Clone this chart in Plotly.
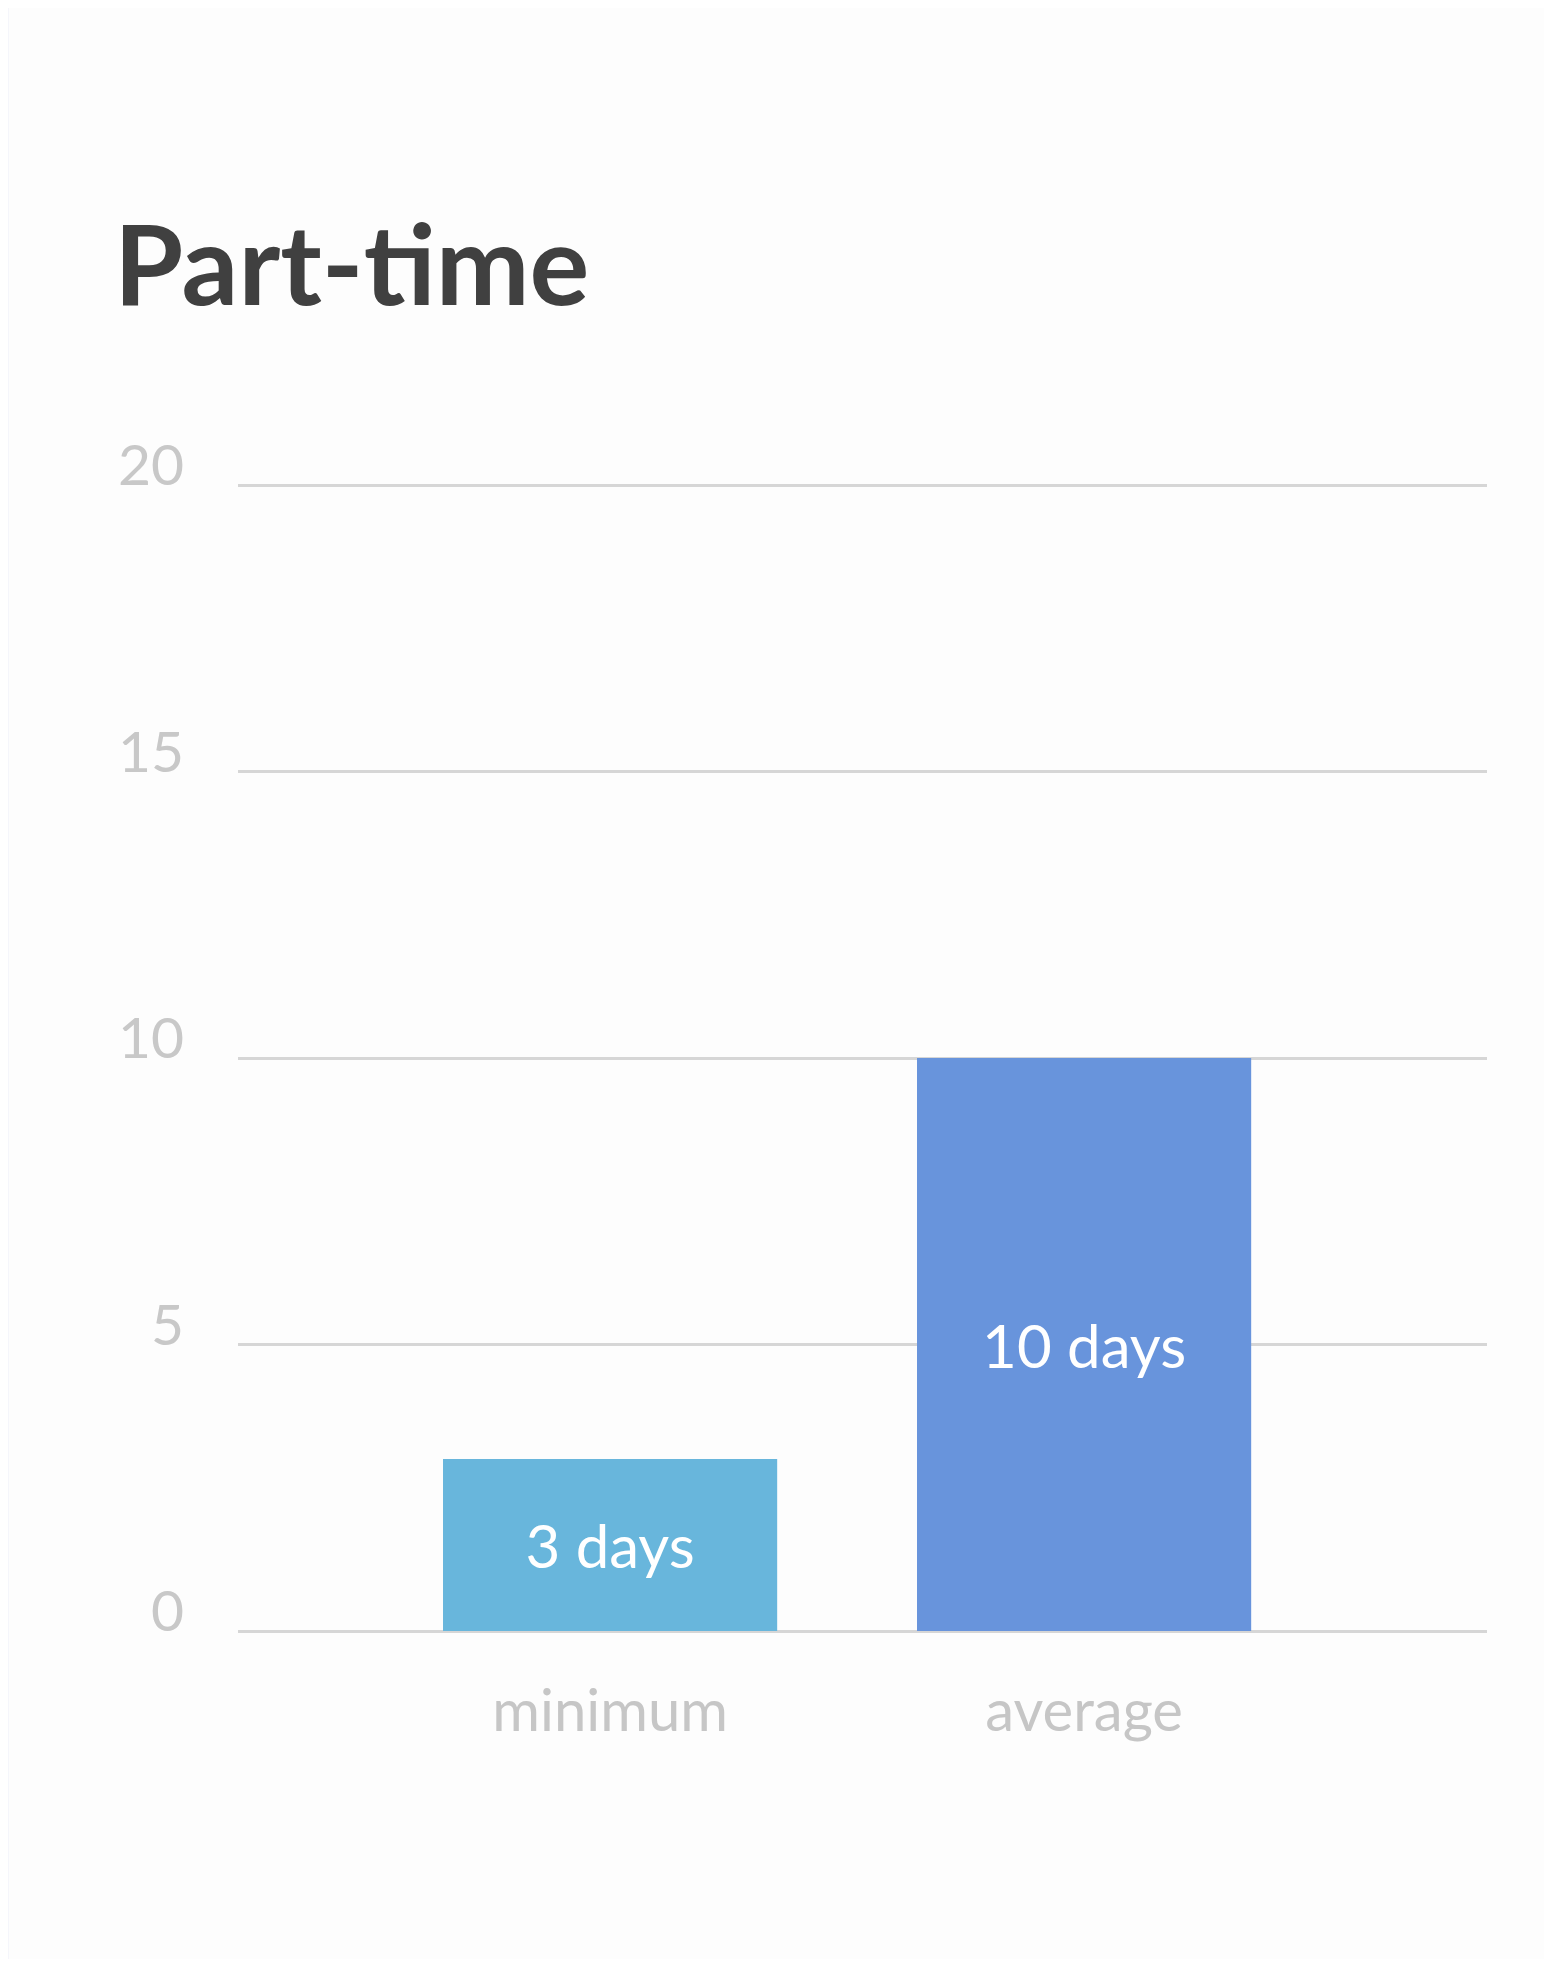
import plotly.graph_objects as go

categories = ["minimum", "average"]
values = [3, 10]
bar_labels = ["3 days", "10 days"]
bar_colors = ["#68B6DC", "#6894DC"]
y_ticks = [0, 5, 10, 15, 20]
title_text = "Part-time"

# page body adds an 8px margin; compensate so the figure lands where the reference does
W, H = 1536, 1951
L, R = 230, 57
PX_PER_UNIT = 1146 / 20
pad_units = 3 / PX_PER_UNIT
T, B = 474, 325
plot_h = H - T - B
plot_w = W - L - R

fig = go.Figure()
fig.add_trace(go.Bar(
    x=categories, y=values, text=bar_labels,
    marker=dict(color=bar_colors, line=dict(width=0)),
    width=0.705,
    textposition="inside", insidetextanchor="middle",
    textfont=dict(family="Lato", size=60, color="#FFFFFF"),
    hoverinfo="skip",
))

fig.update_layout(
    width=W, height=H,
    margin=dict(l=L, r=R, t=T, b=B, pad=0),
    paper_bgcolor="#FDFDFD", plot_bgcolor="#FDFDFD",
    showlegend=False,
    title=dict(text=title_text, xref="container", yref="container",
               x=106 / W, xanchor="left", y=1 - 258 / H, yanchor="middle",
               font=dict(family="Lato", size=112, color="#404040", weight="bold")),
    xaxis=dict(range=[-0.785, 1.85], showgrid=False, zeroline=False, showline=False,
               ticks="", ticklabelstandoff=38,
               tickfont=dict(family="Lato", size=58, color="#C6C6C6")),
    yaxis=dict(range=[-pad_units, 20 + pad_units], tickvals=y_ticks, showgrid=True,
               gridcolor="#D6D6D6", gridwidth=3,
               zeroline=False, showline=False, ticks="", ticklabelposition="outside top",
               ticklabelstandoff=53, ticklabelshift=20,
               tickfont=dict(family="Lato", size=57, color="#C8C8C8")),
    shapes=[dict(type="rect", xref="paper", yref="paper",
                 x0=-L / plot_w, x1=(1 - L) / plot_w, y0=-B / plot_h, y1=1 + T / plot_h,
                 fillcolor="#F5F6FB", line=dict(width=0), layer="below")],
)

fig.write_html("out.html")
